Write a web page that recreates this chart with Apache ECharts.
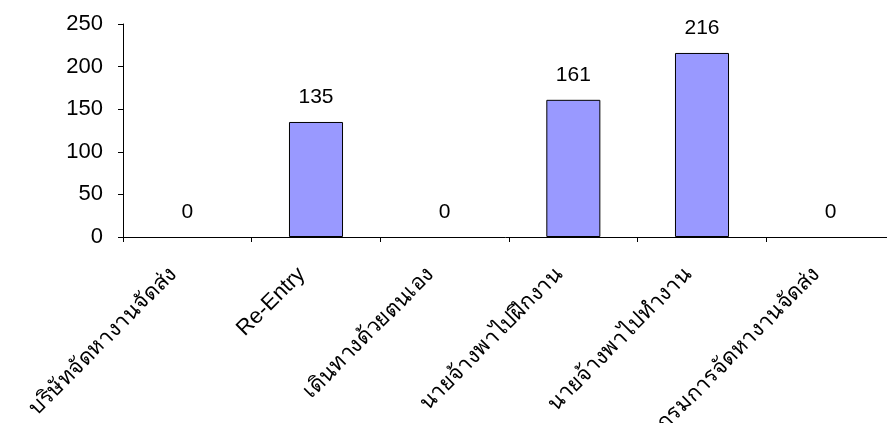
<!DOCTYPE html>
<html><head><meta charset="utf-8">
<script src="https://cdn.jsdelivr.net/npm/echarts@6/dist/echarts.min.js"></script>
<style>html,body{margin:0;padding:0;background:#fff}#c{width:887px;height:423px}</style>
</head><body><div id="c"></div>
<script>
const categories = ["บริษัทจัดหางานจัดส่ง", "Re-Entry", "เดินทางด้วยตนเอง", "นายจ้างพาไปฝึกงาน", "นายจ้างพาไปทำงาน", "กรมการจัดหางานจัดส่ง"];
const values = [0, 135, 0, 161, 216, 0];
const yTicks = [0, 50, 100, 150, 200, 250];

const chart = echarts.init(document.getElementById('c'), null, {renderer: 'canvas'});
chart.setOption({
  animation: false,
  grid: {left: 123, right: -8, top: 24, bottom: 186, containLabel: false, outerBoundsMode: 'none'},
  xAxis: {
    type: 'category', data: categories,
    axisLine: {lineStyle: {color: '#000', width: 1}},
    axisTick: {show: true, alignWithLabel: false, length: 5, lineStyle: {color: '#000'}},
    axisLabel: {rotate: 45, interval: 0, margin: 20, padding: [0, 20, 0, 0], color: '#000', fontSize: 22, fontFamily: 'Liberation Sans, Arial, sans-serif'}
  },
  yAxis: {
    type: 'value', min: yTicks[0], max: yTicks[yTicks.length - 1], interval: 50,
    splitLine: {show: false},
    axisLine: {show: true, lineStyle: {color: '#000', width: 1}},
    axisTick: {show: true, length: 5, lineStyle: {color: '#000'}},
    axisLabel: {color: '#000', fontSize: 22, margin: 20, fontFamily: 'Liberation Sans, Arial, sans-serif'}
  },
  series: [{
    type: 'bar',
    data: values.map(v => v === 0 ? {value: v, itemStyle: {borderWidth: 0}} : v),
    barWidth: '42%',
    itemStyle: {color: '#9999FF', borderColor: '#000', borderWidth: 1},
    label: {show: true, position: 'top', distance: 14, color: '#000', fontSize: 21, fontFamily: 'Liberation Sans, Arial, sans-serif'}
  }]
});
</script></body></html>
